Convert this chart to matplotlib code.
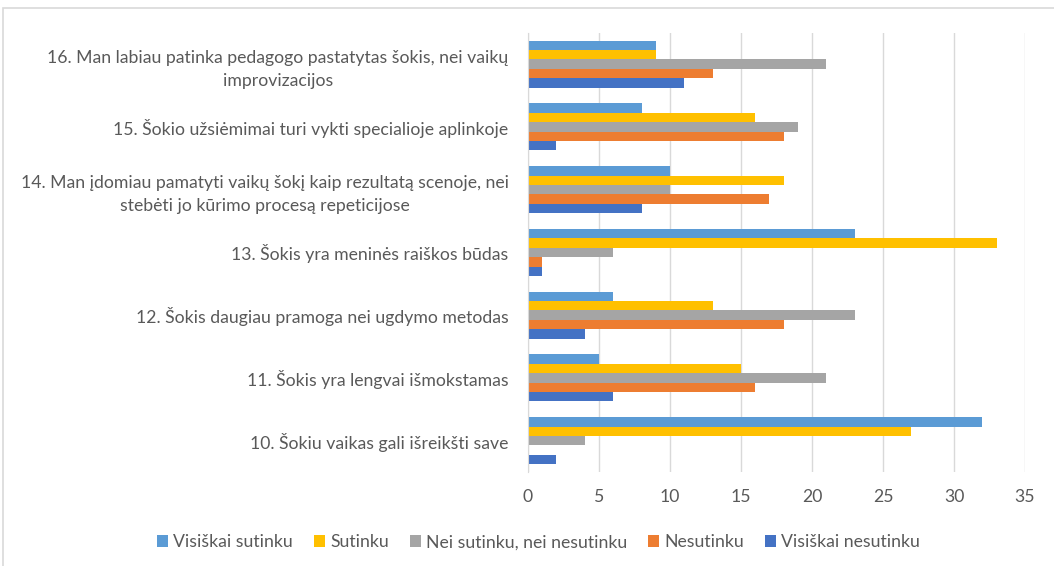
import numpy as np
import matplotlib.pyplot as plt
from matplotlib.patches import Rectangle

plt.rcParams['font.family'] = ['Lato', 'DejaVu Sans']

categories = [
    "10. Šokiu vaikas gali išreikšti save",
    "11. Šokis yra lengvai išmokstamas",
    "12. Šokis daugiau pramoga nei ugdymo metodas",
    "13. Šokis yra meninės raiškos būdas",
    "14. Man įdomiau pamatyti vaikų šokį kaip rezultatą scenoje, nei\nstebėti jo kūrimo procesą repeticijose",
    "15. Šokio užsiėmimai turi vykti specialioje aplinkoje",
    "16. Man labiau patinka pedagogo pastatytas šokis, nei vaikų\nimprovizacijos",
]

series_names = ["Visiškai sutinku", "Sutinku", "Nei sutinku, nei nesutinku",
                "Nesutinku", "Visiškai nesutinku"]
visiskai_sutinku = [32, 5, 6, 23, 10, 8, 9]
sutinku = [27, 15, 13, 33, 18, 16, 9]
nei = [4, 21, 23, 6, 10, 19, 21]
nesutinku = [0, 16, 18, 1, 17, 18, 13]
visiskai_nesutinku = [2, 6, 4, 1, 8, 2, 11]
series = [visiskai_sutinku, sutinku, nei, nesutinku, visiskai_nesutinku]
colors = ["#5B9BD5", "#FFC000", "#A5A5A5", "#ED7D31", "#4472C4"]

fig = plt.figure(figsize=(10.54, 5.66), dpi=100)
fig.patches.append(Rectangle((0.003, -0.01), 1.1, 0.996, transform=fig.transFigure,
                             fill=False, edgecolor="#D9D9D9", linewidth=1.2))
ax = fig.add_axes([0.501, 0.166, 0.4715, 0.776])

y = np.arange(len(categories))
h = 0.15
for i, (vals, name, c) in enumerate(zip(series, series_names, colors)):
    offset = (2 - i) * h
    ax.barh(y + offset, vals, height=h, color=c, label=name)

ax.set_xlim(0, 35)
ax.set_ylim(-0.5, len(categories) - 0.5)
ax.set_xticks(np.arange(0, 36, 5))
ax.set_yticks(y)
ax.set_yticklabels(categories, multialignment='center', linespacing=1.55)
ax.tick_params(axis='both', length=0, colors="#595959", labelsize=12.7)
ax.tick_params(axis='y', pad=14)
ax.tick_params(axis='x', pad=12)
ax.xaxis.grid(True, color="#D9D9D9", linewidth=1)
ax.set_axisbelow(True)
for s in ['top', 'right', 'bottom']:
    ax.spines[s].set_visible(False)
ax.spines['left'].set_color("#D9D9D9")

ax.legend(loc='center', bbox_to_anchor=(0.511, 0.042), bbox_transform=fig.transFigure,
          ncol=5, frameon=False, fontsize=12.7, handlelength=0.6, handleheight=0.6,
          handletextpad=0.3, columnspacing=1.2, labelcolor="#595959")

fig.savefig("out.png", dpi=100)
